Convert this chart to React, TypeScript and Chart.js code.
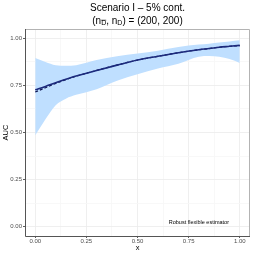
import React, { useEffect, useRef } from "react";
import { Chart, registerables } from "chart.js";

Chart.register(...registerables);

const xGrid = [0, 0.05, 0.1, 0.15, 0.2, 0.3, 0.4, 0.5, 0.6, 0.7, 0.8, 0.85, 0.9, 0.95, 1.0];
const estimate = [0.727, 0.745, 0.765, 0.783, 0.8, 0.83, 0.858, 0.885, 0.905, 0.924, 0.94, 0.946, 0.953, 0.958, 0.963];
const trueCurve = [0.715, 0.738, 0.761, 0.781, 0.799, 0.83, 0.858, 0.885, 0.905, 0.924, 0.94, 0.946, 0.953, 0.958, 0.962];
const upper = [0.896, 0.875, 0.858, 0.855, 0.858, 0.885, 0.905, 0.92, 0.935, 0.955, 0.967, 0.972, 0.978, 0.984, 0.99];
const lower = [0.485, 0.57, 0.645, 0.68, 0.7, 0.73, 0.775, 0.81, 0.84, 0.865, 0.903, 0.906, 0.902, 0.89, 0.869];
const majorTicks = [0, 0.25, 0.5, 0.75, 1];
const allTicks = [0, 0.125, 0.25, 0.375, 0.5, 0.625, 0.75, 0.875, 1];

const titleLine1 = "Scenario I – 5% cont.";
const annotation = "Robust flexible estimator";
const yTitle = "AUC";
const xTitle = "x";

const FONT = "'Liberation Sans', Arial, sans-serif";

const pts = (ys: number[]) => xGrid.map((x, i) => ({ x, y: ys[i] }));
const isMajor = (v: number) => majorTicks.some((m) => Math.abs(m - v) < 1e-9);

const decorPlugin = {
  id: "decor",
  beforeDraw(chart: any) {
    const ctx = chart.ctx;
    ctx.save();
    ctx.fillStyle = "#ffffff";
    ctx.fillRect(0, 0, chart.width, chart.height);
    ctx.restore();
  },
  afterDraw(chart: any) {
    const ctx = chart.ctx;
    const a = chart.chartArea;
    ctx.save();
    ctx.strokeStyle = "#b3b3b3";
    ctx.lineWidth = 1;
    ctx.beginPath();
    ctx.moveTo(a.left, a.top + 0.5);
    ctx.lineTo(a.right - 0.5, a.top + 0.5);
    ctx.lineTo(a.right - 0.5, a.bottom);
    ctx.stroke();
    ctx.strokeStyle = "#555555";
    ctx.beginPath();
    ctx.moveTo(a.left + 0.5, a.top);
    ctx.lineTo(a.left + 0.5, a.bottom + 0.5);
    ctx.lineTo(a.right, a.bottom + 0.5);
    ctx.stroke();

    ctx.fillStyle = "#000000";
    ctx.textAlign = "center";
    ctx.textBaseline = "middle";
    const cx = (a.left + a.right) / 2;
    ctx.font = `10px ${FONT}`;
    ctx.fillText(titleLine1, cx, 8);

    const parts: [string, boolean, boolean][] = [
      ["(n", false, false],
      ["D", true, true],
      [", n", false, false],
      ["D", true, false],
      [") = (200, 200)", false, false],
    ];
    const big = `10px ${FONT}`;
    const small = `7px ${FONT}`;
    let total = 0;
    for (const [t, sub] of parts) {
      ctx.font = sub ? small : big;
      total += ctx.measureText(t).width;
    }
    let x = cx - total / 2;
    const y2 = 21;
    ctx.textAlign = "left";
    for (const [t, sub, bar] of parts) {
      ctx.font = sub ? small : big;
      const w = ctx.measureText(t).width;
      const yy = sub ? y2 + 2.5 : y2;
      ctx.fillText(t, x, yy);
      if (bar) {
        ctx.strokeStyle = "#000";
        ctx.lineWidth = 0.6;
        ctx.beginPath();
        ctx.moveTo(x, yy - 3.3);
        ctx.lineTo(x + w, yy - 3.3);
        ctx.stroke();
      }
      x += w;
    }

    ctx.textAlign = "center";
    ctx.font = `5.5px ${FONT}`;
    ctx.fillStyle = "#000";
    const sx = chart.scales.x;
    const sy = chart.scales.y;
    ctx.fillText(annotation, sx.getPixelForValue(0.8), sy.getPixelForValue(0.02));

    ctx.font = `7.5px ${FONT}`;
    ctx.fillText(xTitle, cx, 247.5);
    ctx.translate(6, (a.top + a.bottom) / 2);
    ctx.rotate(-Math.PI / 2);
    ctx.fillText(yTitle, 0, 0);
    ctx.restore();
  },
};

export default function App() {
  const ref = useRef<HTMLCanvasElement | null>(null);
  useEffect(() => {
    document.body.style.margin = "0";
    const canvas = ref.current;
    if (!canvas) return;
    const setTicks = (scale: any) => {
      scale.ticks = allTicks.map((v) => ({ value: v }));
    };
    const gridColor = (c: any) => (c.tick && isMajor(c.tick.value) ? "#ebebeb" : "#f6f6f6");
    const tickColor = (c: any) => (c.tick && isMajor(c.tick.value) ? "#333333" : "rgba(0,0,0,0)");
    const tickCb = (v: any) => (isMajor(Number(v)) ? Number(v).toFixed(2) : "");
    const chart = new Chart(canvas, {
      type: "line",
      data: {
        datasets: [
          {
            label: "estimate",
            data: pts(estimate),
            borderColor: "#1c2a7d",
            borderWidth: 1.6,
            pointRadius: 0,
            cubicInterpolationMode: "monotone",
            fill: false,
            order: 0,
          },
          {
            label: "true",
            data: pts(trueCurve),
            borderColor: "#0d1550",
            borderWidth: 1.2,
            borderDash: [3, 2],
            pointRadius: 0,
            cubicInterpolationMode: "monotone",
            fill: false,
            order: 1,
          },
          {
            label: "upper",
            data: pts(upper),
            borderWidth: 0,
            borderColor: "rgba(0,0,0,0)",
            backgroundColor: "#bfdfff",
            pointRadius: 0,
            cubicInterpolationMode: "monotone",
            fill: "+1",
            order: 2,
          },
          {
            label: "lower",
            data: pts(lower),
            borderWidth: 0,
            borderColor: "rgba(0,0,0,0)",
            pointRadius: 0,
            cubicInterpolationMode: "monotone",
            fill: false,
            order: 3,
          },
        ],
      },
      options: {
        animation: false,
        responsive: false,
        layout: { padding: { left: 0, right: 4, top: 29, bottom: 0 } },
        plugins: { legend: { display: false }, tooltip: { enabled: false }, title: { display: false } },
        scales: {
          x: {
            type: "linear",
            min: -0.05,
            max: 1.05,
            afterBuildTicks: setTicks,
            afterFit: (s: any) => {
              s.height = 18;
            },
            border: { display: false },
            grid: { color: gridColor, tickColor, tickLength: 2, lineWidth: 0.8 },
            ticks: {
              callback: tickCb,
              autoSkip: false,
              maxRotation: 0,
              color: "#4d4d4d",
              font: { size: 6, family: FONT },
              padding: 0,
            },
          },
          y: {
            type: "linear",
            min: -0.05,
            max: 1.05,
            afterBuildTicks: setTicks,
            afterFit: (s: any) => {
              s.width = 25;
            },
            border: { display: false },
            grid: { color: gridColor, tickColor, tickLength: 2, lineWidth: 0.8 },
            ticks: {
              callback: tickCb,
              autoSkip: false,
              color: "#4d4d4d",
              font: { size: 6, family: FONT },
              padding: 1,
            },
          },
        },
      } as any,
      plugins: [decorPlugin],
    });
    return () => chart.destroy();
  }, []);
  return <canvas ref={ref} width={254} height={254} style={{ display: "block" }} />;
}
